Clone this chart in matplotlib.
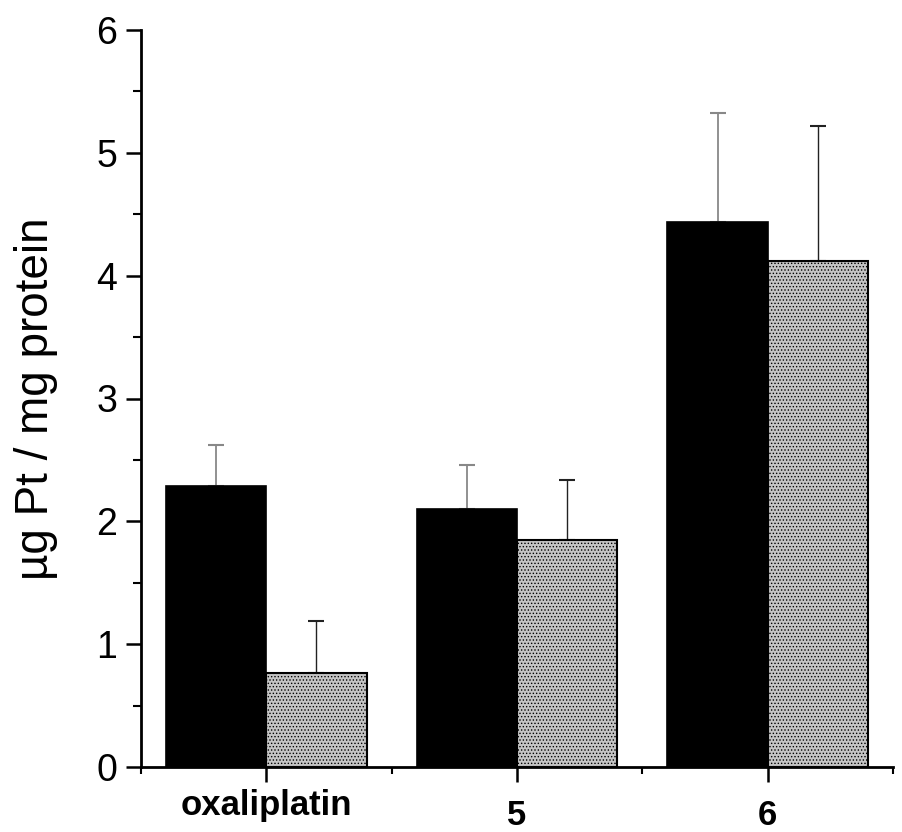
import matplotlib
matplotlib.use("Agg")
import matplotlib.pyplot as plt
import matplotlib.transforms as mtransforms
import numpy as np

categories = ["oxaliplatin", "5", "6"]
black_values = [2.285, 2.10, 4.44]
black_errors = [0.335, 0.355, 0.885]
gray_values = [0.766, 1.85, 4.12]
gray_errors = [0.424, 0.49, 1.10]
y_ticks = [0, 1, 2, 3, 4, 5, 6]
y_label = "µg Pt / mg protein"

plt.rcParams['font.family'] = ['Liberation Sans', 'DejaVu Sans']
plt.rcParams['hatch.linewidth'] = 0.6
plt.rcParams['hatch.color'] = '#6e6e6e'

fig = plt.figure(figsize=(9.03, 8.32), dpi=100)
ax = fig.add_axes([141/903, 1-767/832, (893-141)/903, (767-30)/832])

x = np.arange(1, len(categories) + 1)
w = 0.4

ax.bar(x - w/2, black_values, width=w, color='black', edgecolor='black',
       linewidth=1.2, zorder=2)
ax.bar(x + w/2, gray_values, width=w, color='#c4c4c4', edgecolor='black',
       linewidth=1.5, hatch='.....', zorder=2)

zeros = np.zeros(len(categories))
ax.errorbar(x - w/2, black_values, yerr=[zeros, black_errors], fmt='none',
            ecolor='#888888', elinewidth=1.3, capsize=6, capthick=1.5, zorder=1)
ax.errorbar(x + w/2, gray_values, yerr=[zeros, gray_errors], fmt='none',
            ecolor='#222222', elinewidth=1.0, capsize=6, capthick=1.5, zorder=1)

ax.set_xlim(0.5, 3.5)
ax.set_ylim(0, 6)
ax.set_yticks(y_ticks)
ax.set_yticks(np.arange(0.5, 6, 1.0), minor=True)
ax.set_xticks(x)
ax.set_xticks([0.5, 1.5, 2.5, 3.5], minor=True)
ax.set_xticklabels(categories, fontsize=25, fontweight='bold')
ax.set_yticklabels([str(t) for t in y_ticks], fontsize=27)

for sp in ['top', 'right']:
    ax.spines[sp].set_visible(False)
for sp in ['left', 'bottom']:
    ax.spines[sp].set_linewidth(2.0)

ax.tick_params(axis='y', which='major', direction='out', length=11, width=1.8, pad=6)
ax.tick_params(axis='y', which='minor', direction='out', length=6, width=1.5)
ax.tick_params(axis='x', which='major', direction='out', length=11, width=1.8, pad=5)
ax.tick_params(axis='x', which='minor', direction='out', length=5, width=1.5)

# lower the numeric category labels as in the original
offset = mtransforms.ScaledTranslation(0, -7/72, fig.dpi_scale_trans)
for lbl in ax.get_xticklabels()[1:]:
    lbl.set_transform(lbl.get_transform() + offset)

ax.set_ylabel(y_label, fontsize=33)
ax.yaxis.set_label_coords(-0.11, 0.5)

fig.savefig("out.png", dpi=100)
